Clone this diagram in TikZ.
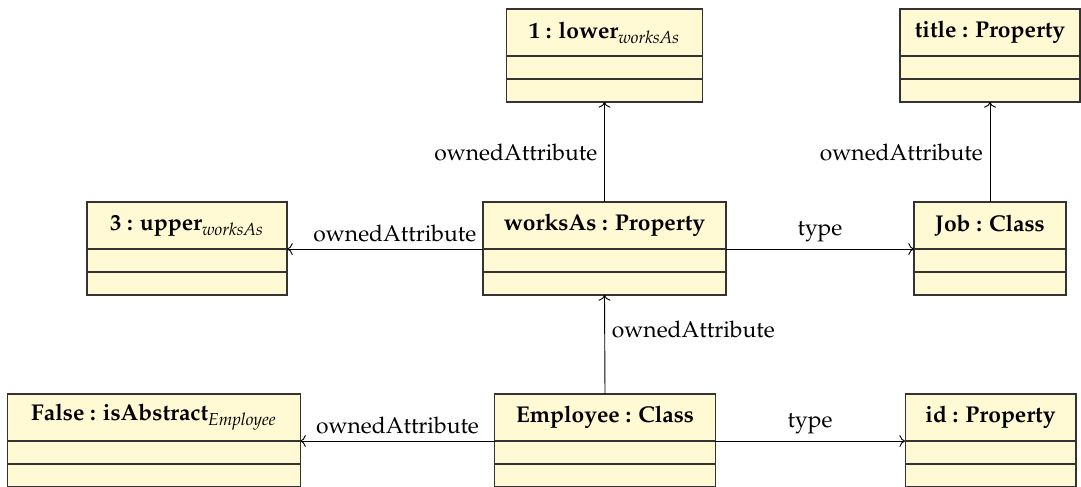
\documentclass[tikz,border=0pt]{standalone}
\usepackage[T1]{fontenc}
\usepackage{mathpazo}
\usepackage{xcolor}
\usepackage{tikz}
\usetikzlibrary{arrows.meta,positioning}
\definecolor{ucream}{HTML}{FFF9D4}
\definecolor{uline}{HTML}{333333}
\tikzset{
  utitle/.style={rectangle, draw=uline, fill=ucream, line width=0.5pt,
                 minimum height=0.724cm, inner sep=2pt, outer sep=0pt,
                 anchor=north, font=\bfseries},
  upart/.style={rectangle, draw=uline, fill=ucream, line width=0.5pt,
                minimum height=0.354cm, inner sep=0pt, outer sep=0pt,
                anchor=north},
  ulink/.style={->, black, line width=0.4pt},
  ulbl/.style={font=\normalsize, inner sep=3pt},
}
% class box: name, position, width, title
\newcommand{\uobj}[4]{%
  \node[utitle, minimum width=#3] (#1) at (#2) {#4};
  \node[upart, minimum width=#3] (#1-a) at (#1.south) {};
  \node[upart, minimum width=#3] (#1-b) at (#1-a.south) {};
}
\begin{document}
\begin{tikzpicture}[x=0.0154cm, y=-0.0154cm]

  \clip (0,0) rectangle (1081,486);

  % rangee du haut
  \uobj{lower}{604.5,9}{3.03cm}{1 : lower$_{\mathit{worksAs}}$}
  \uobj{title}{990,9}{2.77cm}{title : Property}

  % rangee du milieu
  \uobj{upper}{187,202}{3.08cm}{3 : upper$_{\mathit{worksAs}}$}
  \uobj{works}{604.5,202}{3.74cm}{worksAs : Property}
  \uobj{job}{990,202}{2.34cm}{Job : Class}

  % rangee du bas
  \uobj{abstr}{154,394}{4.50cm}{False : isAbstract$_{\mathit{Employee}}$}
  \uobj{empl}{605,394}{3.39cm}{Employee : Class}
  \uobj{ident}{990.5,394}{2.63cm}{id : Property}

  % liens
  \draw[ulink] (works.north) -- node[ulbl, midway, left] {ownedAttribute} (lower-b.south);
  \draw[ulink] (job.north) -- node[ulbl, midway, left] {ownedAttribute} (title-b.south);
  \draw[ulink] (works.south west) -- node[ulbl, pos=0.45, above] {ownedAttribute} (upper.south east);
  \draw[ulink] (works.south east) -- node[ulbl, midway, above] {type} (job.south west);
  \draw[ulink] (empl.north) -- node[ulbl, pos=0.65, right] {ownedAttribute} (works-b.south);
  \draw[ulink] (empl.south west) -- node[ulbl, midway, above] {ownedAttribute} (abstr.south east);
  \draw[ulink] (empl.south east) -- node[ulbl, midway, above] {type} (ident.south west);

\end{tikzpicture}
\end{document}
